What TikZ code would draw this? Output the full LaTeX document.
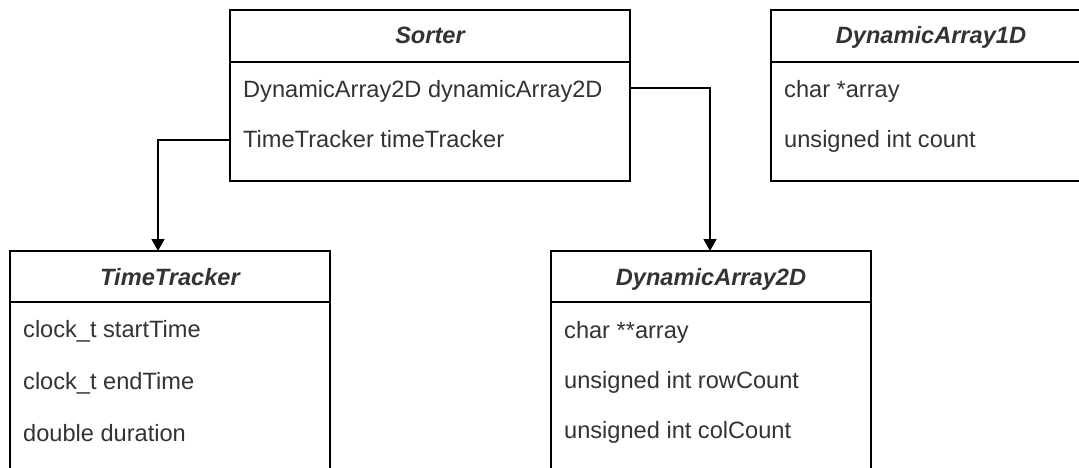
\documentclass[tikz,border=0pt]{standalone}
\usepackage{fontspec}
\setmainfont{Liberation Sans}
\usetikzlibrary{arrows.meta}
\definecolor{txt}{HTML}{333333}
\begin{document}
\begin{tikzpicture}[x=1pt,y=-1pt,
  box/.style={draw=black,line width=1.4pt,anchor=north west,inner sep=0pt,outer sep=0pt},
  divline/.style={draw=black,line width=1.4pt},
  ttl/.style={font=\fontsize{23.6}{28}\selectfont\bfseries\itshape,text=txt,anchor=base,inner sep=0pt},
  fld/.style={font=\fontsize{23.6}{28}\selectfont,text=txt,anchor=base west,inner sep=0pt},
  arr/.style={draw=black,line width=1.4pt,-{Triangle[length=12pt,width=13pt]}}]
\useasboundingbox (0,0) rectangle (1079,468);
\clip (0,0) rectangle (1079,468);
\fill[white] (0,0) rectangle (1079,468);

% Sorter
\node[box,minimum width=400pt,minimum height=171pt] (sorter) at (230,10) {};
\draw[divline] (230,62) -- (630,62);
\node[ttl] (sortert) at (430,44) {Sorter};
\node[fld] (s1) at (243,98) {DynamicArray2D dynamicArray2D};
\node[fld] (s2) at (243,148) {TimeTracker timeTracker};

% DynamicArray1D
\node[box,minimum width=320pt,minimum height=171pt] (da1) at (771,10) {};
\draw[divline] (771,62) -- (1091,62);
\node[ttl] (da1t) at (931,44) {DynamicArray1D};
\node[fld] (a1) at (784,98) {char *array};
\node[fld] (a2) at (784,148) {unsigned int count};

% TimeTracker
\node[box,minimum width=320pt,minimum height=240pt] (tt) at (10,251) {};
\draw[divline] (10,302) -- (330,302);
\node[ttl] (ttt) at (170,285) {TimeTracker};
\node[fld] (t1) at (23,337) {clock\_t startTime};
\node[fld] (t2) at (23,389) {clock\_t endTime};
\node[fld] (t3) at (23,441) {double duration};

% DynamicArray2D
\node[box,minimum width=320pt,minimum height=240pt] (da2) at (551,251) {};
\draw[divline] (551,302) -- (871,302);
\node[ttl] (da2t) at (711,285) {DynamicArray2D};
\node[fld] (b1) at (564,338) {char **array};
\node[fld] (b2) at (564,388) {unsigned int rowCount};
\node[fld] (b3) at (564,438) {unsigned int colCount};

% connectors
\coordinate (ttin) at (158,251);
\coordinate (da2in) at (710,251);
\draw[arr] (sorter.west |- 0,140) -| (ttin);
\draw[arr] (sorter.east |- 0,88) -| (da2in);
\end{tikzpicture}
\end{document}
